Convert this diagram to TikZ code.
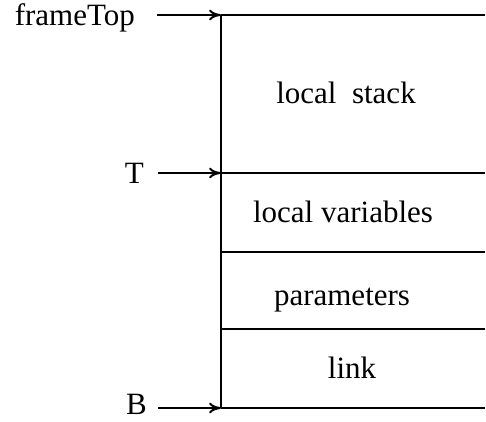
\documentclass[tikz,border=0pt]{standalone}
\usepackage{fontspec}
\setmainfont{Liberation Serif}
\usetikzlibrary{arrows.meta}
\begin{document}
\begin{tikzpicture}[x=1pt,y=-1pt,
  rule/.style={line width=2.2pt},
  pointer/.style={line width=2pt,-{To[length=12pt,width=11pt]}},
  lbl/.style={inner sep=0pt,font=\fontsize{31}{36}\selectfont},
  ]
  \useasboundingbox (0,0) rectangle (486,421);
  % frame boundaries on the stack
  \coordinate (top) at (221,15);
  \coordinate (topR) at (485,15);
  \coordinate (tl) at (221,173);
  \coordinate (tR) at (485,173);
  \coordinate (vl) at (221,252);
  \coordinate (vR) at (485,252);
  \coordinate (pl) at (221,329);
  \coordinate (pR) at (485,329);
  \coordinate (bl) at (221,408);
  \coordinate (bR) at (485,408);
  \draw[rule,line width=1.8pt] (top) -- (bl);
  \draw[rule] (top) -- (topR);
  \draw[rule] (tl) -- (tR);
  \draw[rule] (vl) -- (vR);
  \draw[rule] (pl) -- (pR);
  \draw[rule] (bl) -- (bR);
  % region labels
  \node[lbl,anchor=base] (ls) at (346,103) {local\ \ stack};
  \node[lbl,anchor=base] (lv) at (343,222) {local variables};
  \node[lbl,anchor=base] (pa) at (342,305) {parameters};
  \node[lbl,anchor=base] (lk) at (352,378) {link};
  % pointer names
  \node[lbl,anchor=base east] (ft) at (135,25) {frameTop};
  \node[lbl,anchor=base east] (tn) at (144,183) {T};
  \node[lbl,anchor=base east] (bn) at (147,414) {B};
  \coordinate (fts) at (157,15);
  \coordinate (tns) at (158,173);
  \coordinate (bns) at (158,408);
  \draw[pointer] (fts) -- (top);
  \draw[pointer] (tns) -- (tl);
  \draw[pointer] (bns) -- (bl);
\end{tikzpicture}
\end{document}
